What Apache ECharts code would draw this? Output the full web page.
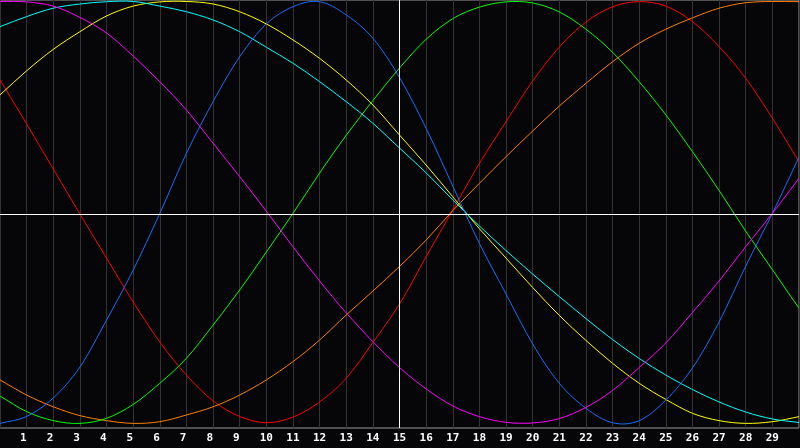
<!DOCTYPE html>
<html>
<head>
<meta charset="utf-8">
<script src="https://cdn.jsdelivr.net/npm/echarts@6/dist/echarts.min.js"></script>
<style>
html,body{margin:0;padding:0;background:#060608;}
#chart{width:800px;height:448px;}
</style>
</head>
<body>
<div id="chart"></div>
<script>
const xs = [0,1,2,3,4,5,6,7,8,9,10,11,12,13,14,15,16,17,18,19,20,21,22,23,24,25,26,27,28,29,30];
const tickLabels = ['1','2','3','4','5','6','7','8','9','10','11','12','13','14','15','16','17','18','19','20','21','22','23','24','25','26','27','28','29'];
const crossX = 15;
const crossY = 0;

const red     = [0.638,0.429,0.214,0.000,-0.210,-0.419,-0.610,-0.767,-0.890,-0.964,-0.994,-0.967,-0.895,-0.782,-0.612,-0.429,-0.203,0.019,0.241,0.440,0.633,0.795,0.914,0.987,1.011,0.990,0.916,0.797,0.646,0.456,0.249];
const orange  = [-0.790,-0.862,-0.918,-0.960,-0.984,-0.997,-0.989,-0.957,-0.918,-0.862,-0.790,-0.703,-0.600,-0.481,-0.367,-0.250,-0.124,0.016,0.146,0.273,0.395,0.514,0.622,0.725,0.813,0.880,0.934,0.980,1.006,1.012,1.011];
const yellow  = [0.567,0.682,0.784,0.868,0.943,0.990,1.010,1.012,1.000,0.963,0.905,0.829,0.741,0.638,0.519,0.376,0.233,0.082,-0.070,-0.210,-0.350,-0.483,-0.602,-0.711,-0.806,-0.883,-0.949,-0.984,-0.997,-0.989,-0.965];
const green   = [-0.867,-0.941,-0.984,-0.997,-0.973,-0.907,-0.806,-0.687,-0.529,-0.362,-0.181,0.003,0.195,0.375,0.540,0.695,0.832,0.930,0.985,1.010,1.005,0.962,0.880,0.770,0.630,0.472,0.297,0.112,-0.082,-0.265,-0.449];
const cyan    = [0.892,0.940,0.980,1.000,1.011,1.012,0.990,0.963,0.924,0.868,0.794,0.718,0.630,0.535,0.432,0.314,0.196,0.067,-0.057,-0.174,-0.286,-0.393,-0.498,-0.598,-0.688,-0.767,-0.836,-0.895,-0.943,-0.976,-0.993];
const blue    = [-0.997,-0.964,-0.876,-0.729,-0.505,-0.267,0.003,0.289,0.535,0.749,0.905,0.987,1.011,0.948,0.837,0.650,0.408,0.133,-0.140,-0.381,-0.619,-0.806,-0.925,-0.994,-0.984,-0.886,-0.733,-0.514,-0.248,0.003,0.271];
const magenta = [1.012,1.010,0.990,0.936,0.862,0.752,0.630,0.495,0.337,0.178,0.013,-0.156,-0.319,-0.471,-0.608,-0.731,-0.833,-0.914,-0.965,-0.992,-0.995,-0.974,-0.921,-0.840,-0.731,-0.614,-0.469,-0.319,-0.155,0.003,0.170];

const seriesDefs = [
  {name:'red', data:red, color:'#ff0000'},
  {name:'orange', data:orange, color:'#ff8000'},
  {name:'yellow', data:yellow, color:'#ffff00'},
  {name:'green', data:green, color:'#00ff00'},
  {name:'cyan', data:cyan, color:'#00ffff'},
  {name:'blue', data:blue, color:'#1a6cff'},
  {name:'magenta', data:magenta, color:'#ff00ff'}
];

const chart = echarts.init(document.getElementById('chart'), null, {renderer:'canvas'});

function curveSeries(def) {
  const n = xs.length;
  return {
    name: def.name, type: 'custom', coordinateSystem: 'cartesian2d', clip: true, z: 2,
    silent: true, animation: false,
    data: xs.map((x, i) => [x, def.data[i]]),
    encode: {x: 0, y: 1},
    renderItem: function (params, api) {
      const i = params.dataIndex;
      if (i >= n - 1) return null;
      const P = k => api.coord([xs[k], def.data[k]]);
      const p1 = P(i), p2 = P(i + 1);
      const p0 = i > 0 ? P(i - 1) : [2 * p1[0] - p2[0], 2 * p1[1] - p2[1]];
      const p3 = i + 2 < n ? P(i + 2) : [2 * p2[0] - p1[0], 2 * p2[1] - p1[1]];
      return {
        type: 'bezierCurve',
        shape: {
          x1: p1[0], y1: p1[1], x2: p2[0], y2: p2[1],
          cpx1: p1[0] + (p2[0] - p0[0]) / 6, cpy1: p1[1] + (p2[1] - p0[1]) / 6,
          cpx2: p2[0] - (p3[0] - p1[0]) / 6, cpy2: p2[1] - (p3[1] - p1[1]) / 6
        },
        style: {stroke: def.color, fill: null, lineWidth: 1}
      };
    }
  };
}

const series = [{
  type:'line', data:[], z:1, silent:true,
  markLine:{
    silent:true, symbol:'none', animation:false,
    label:{show:false},
    lineStyle:{color:'#ffffff', width:1, type:'solid'},
    data:[{xAxis:crossX},{yAxis:crossY}]
  }
}];
seriesDefs.forEach(s => series.push(curveSeries(s)));

chart.setOption({
  backgroundColor:'#060608',
  animation:false,
  grid:{left:0, right:1, top:0, bottom:20, show:true, borderColor:'#9a9a9a', borderWidth:1, backgroundColor:'transparent'},
  xAxis:{
    type:'value', min:0, max:30, interval:1,
    axisLine:{show:false}, axisTick:{show:false},
    splitLine:{show:true, lineStyle:{color:'#333333', width:1}},
    axisLabel:{
      show:true, color:'#ffffff', fontFamily:'DejaVu Sans Mono', fontWeight:'bold', fontSize:11,
      margin:5, showMinLabel:false, showMaxLabel:false,
      formatter: v => (v >= 1 && v <= 29) ? (tickLabels[v-1].length === 1 ? tickLabels[v-1] + ' ' : tickLabels[v-1]) : ''
    }
  },
  yAxis:{
    type:'value', min:-1.019, max:1.019,
    axisLine:{show:false}, axisTick:{show:false}, axisLabel:{show:false},
    splitLine:{show:false}
  },
  series: series
});
</script>
</body>
</html>
